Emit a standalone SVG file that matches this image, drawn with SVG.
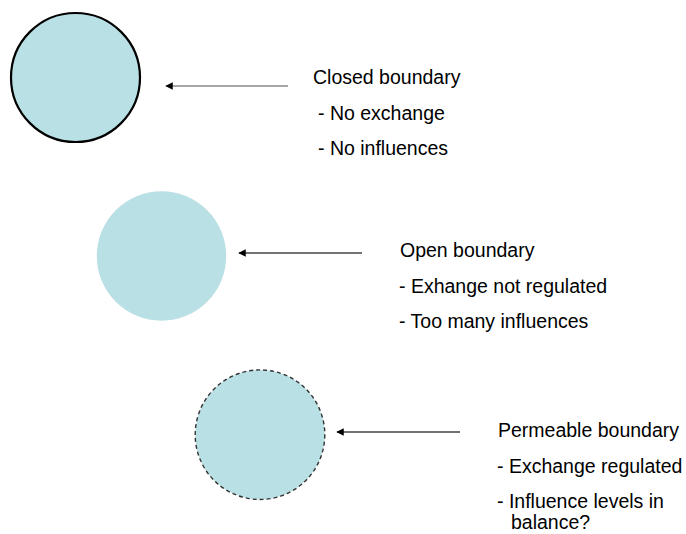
<svg xmlns="http://www.w3.org/2000/svg" width="686" height="534" viewBox="0 0 686 534">
  <style>
    .disc { fill: #b9e0e4; }
    .closed { stroke: #000; stroke-width: 2.2; }
    .open { stroke: none; }
    .permeable { stroke: #333; stroke-width: 1.4; stroke-dasharray: 4 3; }
    .label { font-family: "Liberation Sans", Arial, sans-serif; font-size: 19.5px; fill: #000; }
    .conn { stroke: #555; stroke-width: 1.5; fill: none; marker-end: url(#head); }
  </style>
  <defs>
    <marker id="head" viewBox="0 0 10 10" refX="9" refY="5" markerWidth="5" markerHeight="5" orient="auto" markerUnits="strokeWidth">
      <path d="M0,0 L10,5 L0,10 z" fill="#000"/>
    </marker>
  </defs>

  <g id="closed-boundary">
    <circle class="disc closed" cx="75.5" cy="77.5" r="64.5"/>
    <text class="label" x="313" y="84">Closed boundary</text>
    <text class="label" x="318" y="120">- No exchange</text>
    <text class="label" x="318" y="155">- No influences</text>
  </g>

  <g id="open-boundary">
    <circle class="disc open" cx="161.5" cy="256" r="64.7"/>
    <text class="label" x="400" y="256.5">Open boundary</text>
    <text class="label" x="399" y="292.5">- Exhange not regulated</text>
    <text class="label" x="399" y="328">- Too many influences</text>
  </g>

  <g id="permeable-boundary">
    <circle class="disc permeable" cx="260" cy="434.7" r="64.8"/>
    <text class="label" x="498" y="437">Permeable boundary</text>
    <text class="label" x="497" y="472.5">- Exchange regulated</text>
    <text class="label" x="497" y="507.5">- Influence levels in</text>
    <text class="label" x="511" y="529">balance?</text>
  </g>

  <g id="connectors">
    <line class="conn" x1="288" y1="86" x2="166" y2="86" style="stroke:#888"/>
    <line class="conn" x1="362" y1="253" x2="239" y2="253" style="stroke:#444"/>
    <line class="conn" x1="460" y1="432" x2="337" y2="432" style="stroke:#444"/>
  </g>
</svg>
